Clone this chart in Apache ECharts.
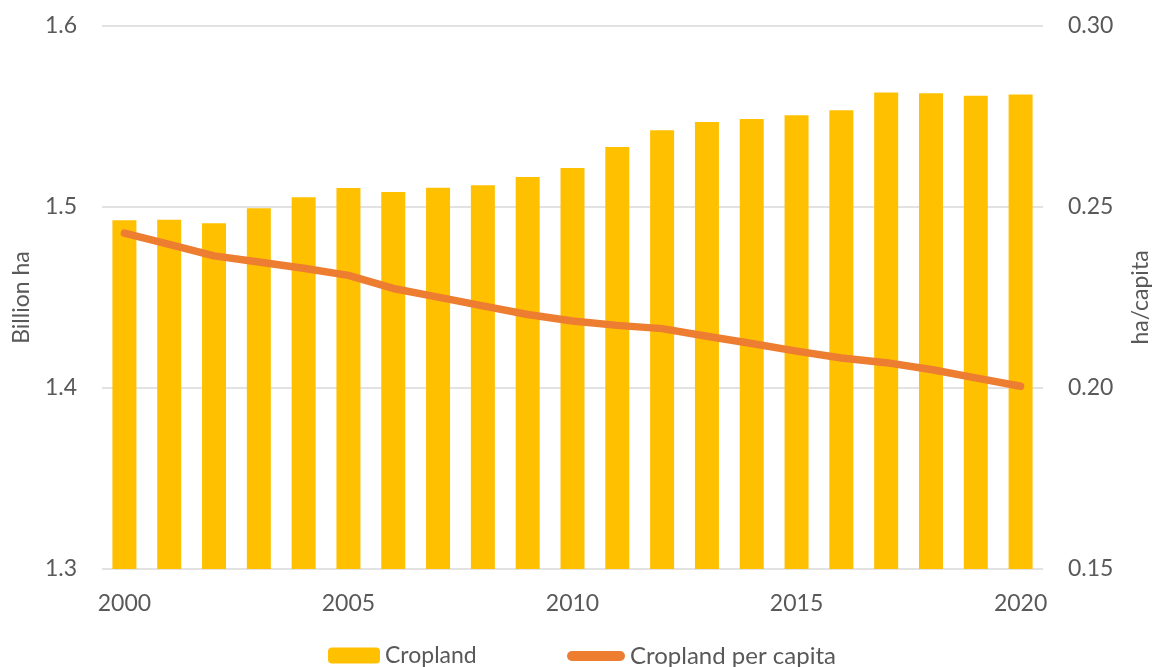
<!DOCTYPE html>
<html>
<head>
<meta charset="utf-8">
<script src="https://cdn.jsdelivr.net/npm/echarts@6/dist/echarts.min.js"></script>
<style>
  html, body { margin: 0; padding: 0; background: #ffffff; }
  #chart { width: 1153px; height: 667px; }
</style>
</head>
<body>
<div id="chart"></div>
<script>
// Years on the category axis
const years = ['2000','2001','2002','2003','2004','2005','2006','2007','2008','2009','2010',
               '2011','2012','2013','2014','2015','2016','2017','2018','2019','2020'];

// Total cropland area, billion hectares
const cropland = [1.4927, 1.4930, 1.4910, 1.4993, 1.5054, 1.5105, 1.5083, 1.5107, 1.5120, 1.5166, 1.5215,
                  1.5332, 1.5424, 1.5470, 1.5486, 1.5507, 1.5534, 1.5632, 1.5628, 1.5615, 1.5622];

// Cropland per person, hectares per capita
const croplandPerCapita = [0.2428, 0.2397, 0.2365, 0.2348, 0.2331, 0.2311, 0.2275, 0.2251, 0.2227, 0.2203, 0.2185,
                           0.2173, 0.2164, 0.2143, 0.2123, 0.2102, 0.2083, 0.2070, 0.2051, 0.2028, 0.2005];

const FONT = 'Lato, "Open Sans", sans-serif';
const TEXT = '#595959';
const FS = 23;

// Thick rounded stroke used as the legend key of the line series
const LINE_KEY = 'path://M5,0 L53,0 A5,5 0 0 1 53,10 L5,10 A5,5 0 0 1 5,0 Z';

const chart = echarts.init(document.getElementById('chart'), null, { renderer: 'canvas' });

chart.setOption({
  animation: false,
  textStyle: { fontFamily: FONT, color: TEXT },
  grid: { left: 102, right: 110, top: 26, bottom: 98, outerBoundsMode: 'none', containLabel: false },
  legend: [
    {
      left: 323,
      top: 639,
      itemWidth: 52,
      itemHeight: 16,
      textStyle: { fontFamily: FONT, fontSize: FS, color: TEXT },
      data: ['Cropland']
    },
    {
      left: 562,
      top: 639,
      itemWidth: 58,
      itemHeight: 10,
      textStyle: { fontFamily: FONT, fontSize: 24, color: TEXT },
      data: [{ name: 'Cropland per capita', icon: LINE_KEY }]
    }
  ],
  xAxis: {
    type: 'category',
    data: years,
    axisLine: { show: false },
    axisTick: { show: false },
    axisLabel: { interval: 4, fontFamily: FONT, fontSize: FS, color: TEXT, margin: 23 }
  },
  yAxis: [
    {
      type: 'value',
      min: 1.3,
      max: 1.6,
      interval: 0.1,
      name: 'Billion ha',
      nameLocation: 'middle',
      nameGap: 69,
      nameTextStyle: { fontFamily: FONT, fontSize: FS, color: TEXT },
      axisLine: { show: false },
      axisTick: { show: false },
      axisLabel: { fontFamily: FONT, fontSize: FS, color: TEXT, margin: 25,
                   formatter: v => v.toFixed(1) },
      splitLine: { lineStyle: { color: '#d9d9d9', width: 1.5 } }
    },
    {
      type: 'value',
      min: 0.15,
      max: 0.30,
      interval: 0.05,
      name: 'ha/capita',
      nameLocation: 'middle',
      nameGap: 86,
      nameRotate: 90,
      nameTextStyle: { fontFamily: FONT, fontSize: FS, color: TEXT },
      axisLine: { show: false },
      axisTick: { show: false },
      axisLabel: { fontFamily: FONT, fontSize: FS, color: TEXT, margin: 25,
                   formatter: v => v.toFixed(2) },
      splitLine: { show: false }
    }
  ],
  series: [
    {
      name: 'Cropland',
      type: 'bar',
      yAxisIndex: 0,
      data: cropland,
      barWidth: 24,
      itemStyle: { color: '#FFC000' }
    },
    {
      name: 'Cropland per capita',
      type: 'line',
      yAxisIndex: 1,
      data: croplandPerCapita,
      symbol: 'none',
      lineStyle: { color: '#ED7D31', width: 7.5, cap: 'round', join: 'round' },
      itemStyle: { color: '#ED7D31' }
    }
  ]
});
</script>
</body>
</html>
